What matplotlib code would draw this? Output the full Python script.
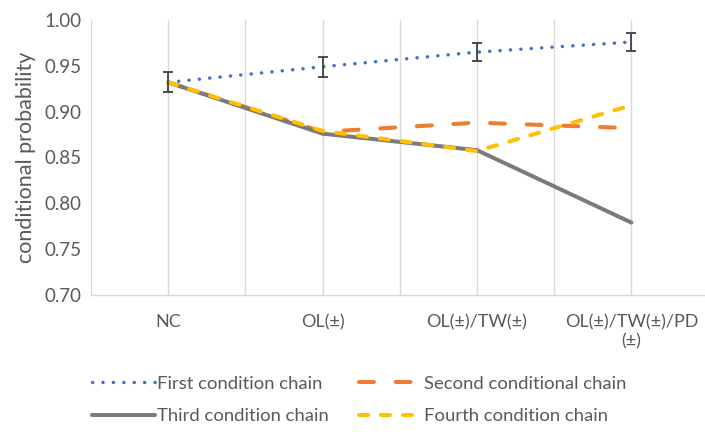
import matplotlib
matplotlib.use("Agg")
import matplotlib.pyplot as plt

plt.rcParams['font.family'] = ['Lato', 'DejaVu Sans']

categories = ["NC", "OL(±)", "OL(±)/TW(±)", "OL(±)/TW(±)/PD\n(±)"]
first_chain = [0.932, 0.949, 0.965, 0.976]
first_err = [0.011, 0.011, 0.010, 0.010]
second_chain = [0.932, 0.878, 0.888, 0.882]
third_chain = [0.932, 0.876, 0.858, 0.779]
fourth_chain = [0.932, 0.879, 0.857, 0.907]
series_names = ["First condition chain", "Second conditional chain",
                "Third condition chain", "Fourth condition chain"]
y_ticks = [0.70, 0.75, 0.80, 0.85, 0.90, 0.95, 1.00]

text_color = "#595959"
grid_color = "#d9d9d9"

fig = plt.figure(figsize=(7.05, 4.34), dpi=100)
ax = fig.add_axes([91 / 705, 1 - 295 / 434, 614 / 705, 275 / 434])

# categories sit on every second slot of the grid
xpos = [1, 3, 5, 7]

h1, = ax.plot(xpos, first_chain, color="#4472C4", lw=2.5,
              linestyle=(0, (0.05, 2.95)), dash_capstyle="round", zorder=3)
ax.errorbar(xpos, first_chain, yerr=first_err, fmt="none", ecolor="#404040",
            elinewidth=1.3, capsize=3.5, capthick=1.3, zorder=4)
h2, = ax.plot(xpos, second_chain, color="#ED7D31", lw=2.9,
              linestyle=(0, (3.7, 5.4)), dash_capstyle="round", zorder=3)
h3, = ax.plot(xpos, third_chain, color="#7b7b7b", lw=2.9,
              solid_capstyle="round", zorder=3)
h4, = ax.plot(xpos, fourth_chain, color="#FFC000", lw=2.9,
              linestyle=(0, (2.25, 3.2)), dash_capstyle="round", zorder=3)

ax.set_xlim(0, 614 / 77.2)
ax.set_ylim(0.70, 1.00)
ax.set_yticks(y_ticks)
ax.set_yticklabels([f"{v:.2f}" for v in y_ticks])

ax.set_xticks(range(8))
labels = []
for i in range(8):
    labels.append(categories[i // 2] if i % 2 == 1 else "")
ax.set_xticklabels(labels, multialignment="center")
ax.grid(axis="x", color=grid_color, lw=1.0)
ax.set_axisbelow(True)

for s in ["top", "right", "left"]:
    ax.spines[s].set_visible(False)
ax.spines["bottom"].set_color(grid_color)
ax.spines["bottom"].set_linewidth(1.0)

ax.tick_params(axis="y", length=0, labelsize=13.5, colors=text_color, pad=7)
ax.tick_params(axis="x", length=0, labelsize=13, colors=text_color, pad=14)
ax.set_ylabel("conditional probability", fontsize=15.5, color=text_color,
              labelpad=6)

# legend filled row by row: First, Second / Third, Fourth
leg = fig.legend([h1, h3, h2, h4],
                 [series_names[0], series_names[2], series_names[1], series_names[3]],
                 ncol=2, loc="upper left",
                 bbox_to_anchor=(88 / 705, 1 - 372 / 434),
                 frameon=False, fontsize=13.3, handlelength=3.4,
                 handletextpad=0.15, columnspacing=1.6, labelspacing=0.9,
                 borderaxespad=0, borderpad=0.2)
for t in leg.get_texts():
    t.set_color(text_color)

fig.savefig("out.png", dpi=100)
